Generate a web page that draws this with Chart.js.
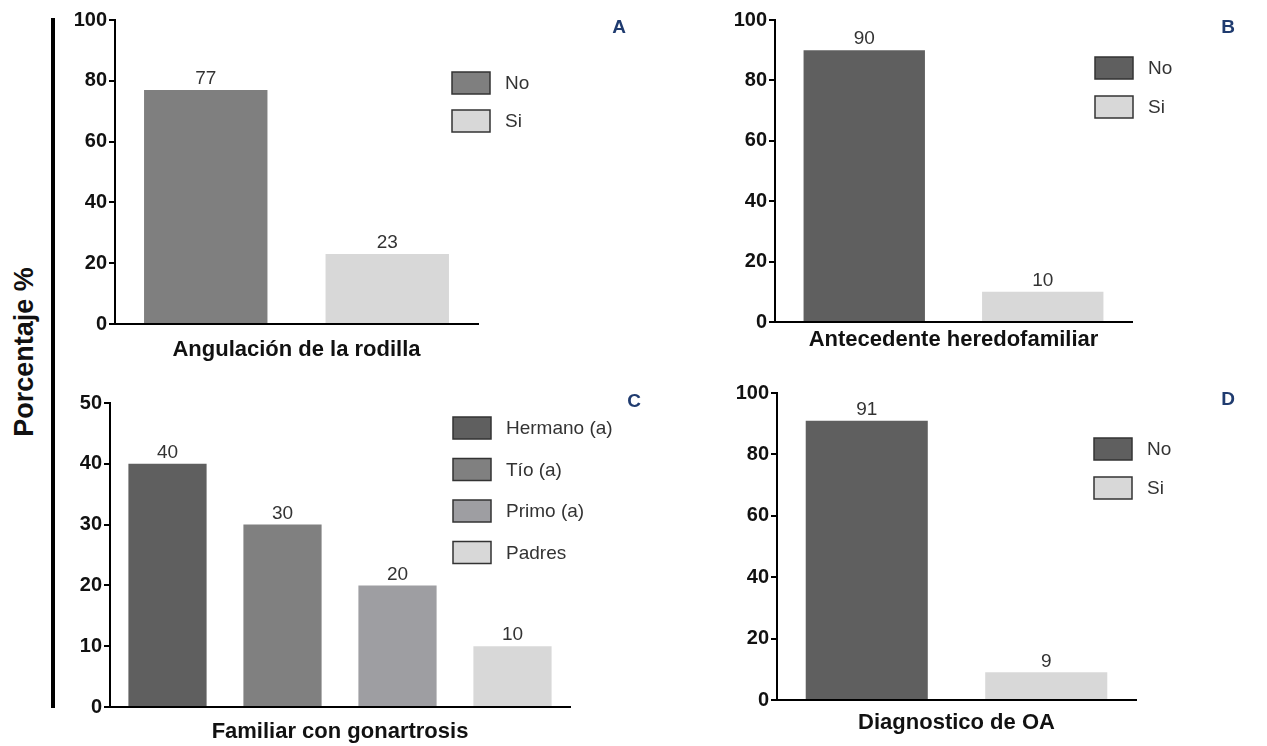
<!DOCTYPE html>
<html>
<head>
<meta charset="utf-8">
<script src="https://cdn.jsdelivr.net/npm/chart.js@4.4.1/dist/chart.umd.min.js"></script>
<style>
html, body { margin: 0; padding: 0; background: #fff; }
#page { position: relative; width: 1267px; height: 746px; overflow: hidden; background: #fff; }
.panel { position: absolute; }
#sideLine { position: absolute; left: 51px; top: 18px; width: 4px; height: 690px; background: #000; }
#yTitle {
    position: absolute; left: 24px; top: 352px;
    transform: translate(-50%, -50%) rotate(-90deg);
    font: bold 27px 'Liberation Sans', Arial, sans-serif;
    white-space: nowrap; color: #111;
}
</style>
</head>
<body>
<div id="page">
    <div id="sideLine"></div>
    <div id="yTitle">Porcentaje %</div>
    <div class="panel" style="left:60px;top:0px;"><canvas id="chartA" width="580" height="370"></canvas></div>
    <div class="panel" style="left:700px;top:0px;"><canvas id="chartB" width="567" height="370"></canvas></div>
    <div class="panel" style="left:60px;top:370px;"><canvas id="chartC" width="600" height="376"></canvas></div>
    <div class="panel" style="left:700px;top:370px;"><canvas id="chartD" width="567" height="376"></canvas></div>
</div>
<script>
// datos
const catsA = ['No', 'Si'];
const valsA = [77, 23];
const catsB = ['No', 'Si'];
const valsB = [90, 10];
const catsC = ['Hermano (a)', 'Tío (a)', 'Primo (a)', 'Padres'];
const valsC = [40, 30, 20, 10];
const catsD = ['No', 'Si'];
const valsD = [91, 9];
const ticksPct = [0, 20, 40, 60, 80, 100];
const ticksC = [0, 10, 20, 30, 40, 50];
const titleA = 'Angulación de la rodilla';
const titleB = 'Antecedente heredofamiliar';
const titleC = 'Familiar con gonartrosis';
const titleD = 'Diagnostico de OA';

// colores
const colorsA = ['#7f7f7f', '#d8d8d8'];
const colorsB = ['#5f5f5f', '#d8d8d8'];
const colorsC = ['#5f5f5f', '#808080', '#9e9ea2', '#d8d8d8'];
const colorsD = ['#5f5f5f', '#d8d8d8'];

const FONT = "'Liberation Sans', Arial, sans-serif";
const NARROW = "'Liberation Sans Narrow', 'Arial Narrow', 'Liberation Sans', Arial, sans-serif";

// etiquetas de valor, leyenda y letra del panel
const panelDecor = {
    id: 'panelDecor',
    afterDatasetsDraw(chart, args, opts) {
        const ctx = chart.ctx;
        const ds = chart.data.datasets[0];
        const meta = chart.getDatasetMeta(0);
        ctx.save();
        ctx.font = '19px ' + FONT;
        ctx.fillStyle = '#333';
        ctx.textAlign = 'center';
        ctx.textBaseline = 'middle';
        meta.data.forEach((bar, i) => {
            ctx.fillText(ds.data[i], bar.x, bar.y - 11);
        });

        // leyenda
        ctx.textAlign = 'left';
        ctx.font = '19px ' + FONT;
        chart.data.labels.forEach((lab, i) => {
            const y = opts.legendY + i * opts.rowGap;
            ctx.fillStyle = ds.backgroundColor[i];
            ctx.fillRect(opts.legendX, y, 38, 22);
            ctx.strokeStyle = '#333';
            ctx.lineWidth = 1.5;
            ctx.strokeRect(opts.legendX, y, 38, 22);
            ctx.fillStyle = '#333';
            ctx.fillText(lab, opts.legendX + 53, y + 12);
        });

        // letra
        ctx.font = 'bold 19px ' + FONT;
        ctx.fillStyle = '#1f3b6f';
        ctx.textAlign = 'center';
        ctx.fillText(opts.tag, opts.tagX, opts.tagY);
        ctx.restore();
    }
};

function makePanel(id, cats, vals, colors, yTicks, xTitle, lay) {
    return new Chart(document.getElementById(id), {
        type: 'bar',
        data: {
            labels: cats,
            datasets: [{
                data: vals,
                backgroundColor: colors,
                borderWidth: 0,
                categoryPercentage: 1,
                barPercentage: 0.68
            }]
        },
        options: {
            responsive: false,
            animation: false,
            layout: { padding: lay.padding },
            plugins: {
                legend: { display: false },
                tooltip: { enabled: false },
                panelDecor: lay.decor
            },
            scales: {
                x: {
                    grid: { display: false },
                    border: { display: true, color: '#000', width: 2 },
                    ticks: { display: false },
                    title: {
                        display: true,
                        text: xTitle,
                        color: '#111',
                        padding: 0,
                        font: { family: FONT, size: 22, weight: 'bold', lineHeight: 1 }
                    },
                    afterFit(scale) { scale.height = lay.xHeight; }
                },
                y: {
                    min: yTicks[0],
                    max: yTicks[yTicks.length - 1],
                    afterBuildTicks(scale) { scale.ticks = yTicks.map(v => ({ value: v })); },
                    grid: { drawOnChartArea: false, drawTicks: true, tickLength: 6, color: '#000', lineWidth: 2 },
                    border: { display: true, color: '#000', width: 2 },
                    ticks: {
                        color: '#111',
                        padding: 2,
                        font: { family: NARROW, size: 20, weight: 'bold' }
                    },
                    afterFit(scale) { scale.width = lay.yWidth; }
                }
            }
        },
        plugins: [panelDecor]
    });
}

makePanel('chartA', catsA, valsA, colorsA, ticksPct, titleA, {
    padding: { left: 0, right: 162, top: 20, bottom: 9 },
    yWidth: 55, xHeight: 37,
    decor: { legendX: 392, legendY: 72, rowGap: 38, tag: 'A', tagX: 559, tagY: 28 }
});
makePanel('chartB', catsB, valsB, colorsB, ticksPct, titleB, {
    padding: { left: 20, right: 135, top: 20, bottom: 19 },
    yWidth: 55, xHeight: 29,
    decor: { legendX: 395, legendY: 57, rowGap: 39, tag: 'B', tagX: 528, tagY: 28 }
});
makePanel('chartC', catsC, valsC, colorsC, ticksC, titleC, {
    padding: { left: 0, right: 90, top: 33, bottom: 3 },
    yWidth: 50, xHeight: 36,
    decor: { legendX: 393, legendY: 47, rowGap: 41.5, tag: 'C', tagX: 574, tagY: 32 }
});
makePanel('chartD', catsD, valsD, colorsD, ticksPct, titleD, {
    padding: { left: 22, right: 131, top: 23, bottom: 12 },
    yWidth: 55, xHeight: 34,
    decor: { legendX: 394, legendY: 68, rowGap: 39, tag: 'D', tagX: 528, tagY: 30 }
});
</script>
</body>
</html>
